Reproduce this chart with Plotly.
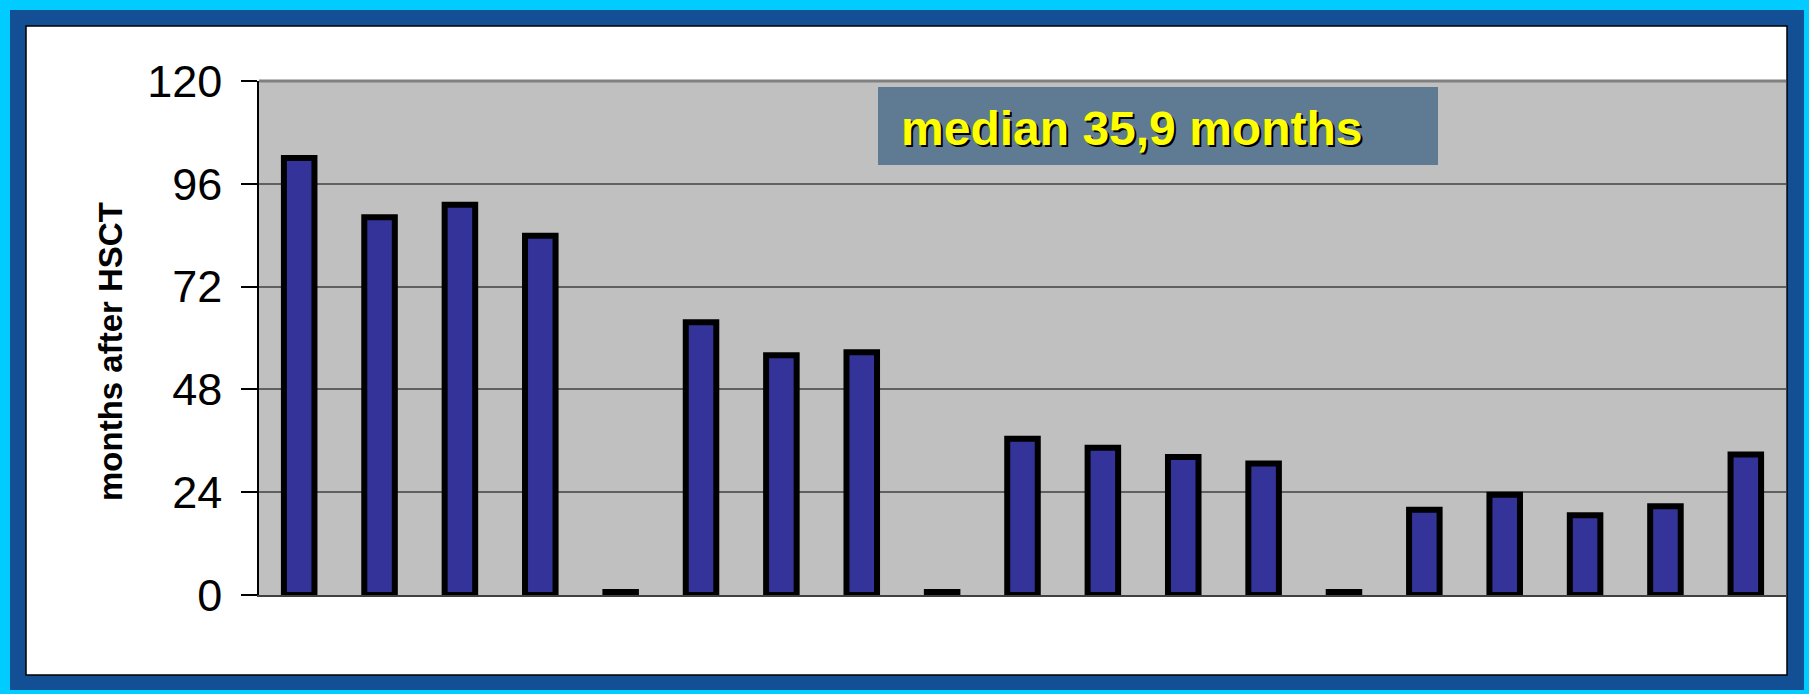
import plotly.graph_objects as go

# Months of follow-up after HSCT, one bar per patient
patients = list(range(1, 20))
months = [102.0, 88.2, 91.1, 83.9, 0.7, 63.7, 56.0, 56.7, 0.7, 36.5,
          34.4, 32.2, 30.7, 0.7, 19.9, 23.4, 18.6, 20.7, 32.8]
y_ticks = [0, 24, 48, 72, 96, 120]
median_label = "median 35,9 months"
y_title = "months after HSCT"

W, H = 1809, 694
PL, PR, PT, PB = 259, 1786, 81, 595  # plot area in pixels


def px(x):
    return (x - PL) / (PR - PL)


def py(y):
    return (PB - y) / (PB - PT)


def rect(x0, y0, x1, y1, fill, line_color=None, line_width=0, layer="below"):
    return dict(type="rect", xref="paper", yref="paper",
                x0=px(x0), x1=px(x1), y0=py(y1), y1=py(y0),
                fillcolor=fill, layer=layer,
                line=dict(color=line_color or fill, width=line_width))


fig = go.Figure(go.Bar(
    x=patients, y=months,
    marker=dict(color="#333399", line=dict(color="#000000", width=6)),
    hoverinfo="skip",
))

shapes = [
    rect(0, 0, W, H, "#00ccff"),                       # outer cyan frame
    rect(10, 10, W - 5, H - 4, "#124f95"),              # blue frame band
    rect(26, 26, 1787, 675, "#ffffff", "#000000", 1.5),  # white panel
    rect(PL, PT, PR, PB, "#c0c0c0"),                    # plot area
    rect(878, 87, 1438, 165, "#5f7a93"),                # median box
    dict(type="line", xref="paper", yref="paper", x0=0, x1=1, y0=1, y1=1,
         line=dict(color="#808080", width=3), layer="above"),
]

fig.update_layout(
    width=W, height=H,
    margin=dict(l=PL, r=W - PR, t=PT, b=H - PB, autoexpand=False),
    paper_bgcolor="#00ccff",
    plot_bgcolor="rgba(0,0,0,0)",
    showlegend=False,
    bargap=0.62,
    shapes=shapes,
    font=dict(family="Arial, Liberation Sans, sans-serif", color="#000000"),
    xaxis=dict(
        range=[0.5, 19.5], showticklabels=False, ticks="", showgrid=False,
        showline=True, linecolor="#404040", linewidth=1.5, zeroline=False,
        fixedrange=True,
    ),
    yaxis=dict(
        range=[0, 120], tickvals=y_ticks, ticktext=[str(v) for v in y_ticks],
        tickfont=dict(size=45, family="Arial, Liberation Sans, sans-serif"),
        ticks="outside", ticklen=16, tickwidth=1.5, tickcolor="#000000",
        ticklabelstandoff=10,
        showline=True, linecolor="#000000", linewidth=1.5,
        showgrid=True, gridcolor="#606060", gridwidth=1.5, zeroline=False,
        fixedrange=True,
    ),
    annotations=[
        dict(text=y_title, xref="paper", yref="paper",
             x=px(110), y=py(352), xanchor="center", yanchor="middle",
             textangle=-90, showarrow=False,
             font=dict(size=33, weight="bold", color="#000000",
                       family="Arial, Liberation Sans, sans-serif")),
        dict(text=median_label, xref="paper", yref="paper",
             x=px(899), y=py(128), xanchor="left", yanchor="middle",
             showarrow=False,
             font=dict(size=48, weight="bold", color="#ffff00",
                       shadow="2px 2px 0px #000000",
                       family="Arial, Liberation Sans, sans-serif")),
    ],
)

fig.write_html("out.html")
